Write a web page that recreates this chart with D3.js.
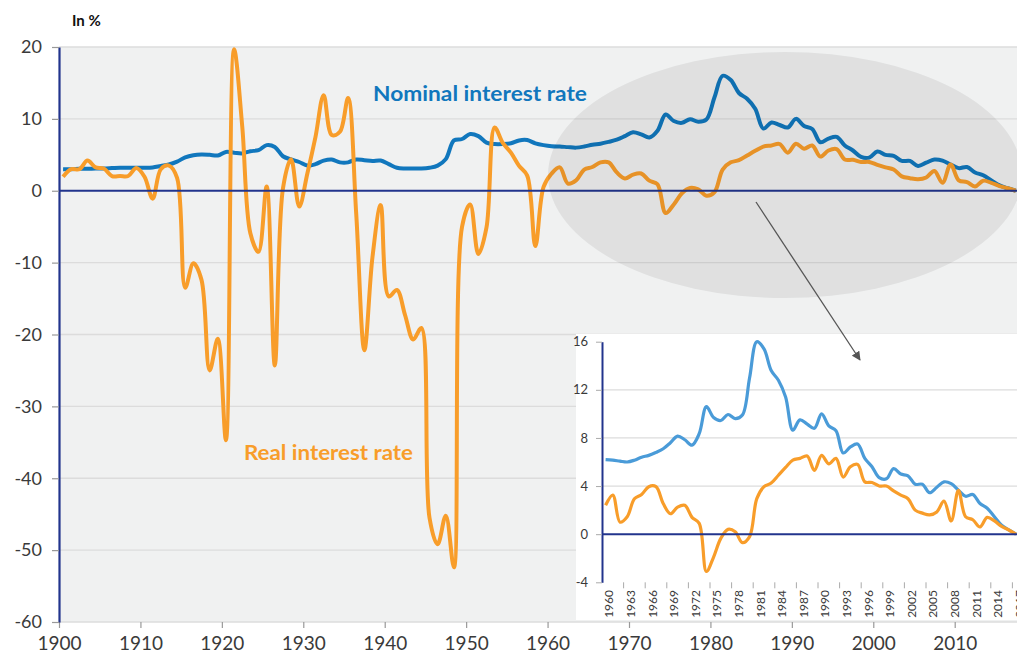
<!DOCTYPE html>
<html>
<head>
<meta charset="utf-8">
<script src="https://cdn.jsdelivr.net/npm/d3@7"></script>
<style>
  body { margin: 0; background: #fff; }
  svg text { font-family: Lato, "Open Sans", sans-serif; }
</style>
</head>
<body>
<div id="chart"></div>
<script>
// yearly values, 1900 .. 2017 (in %)
var startYear = 1900;
var nominalRate = [
  3.0, 3.0, 3.05, 3.05, 3.1, 3.1, 3.15, 3.2, 3.2, 3.2,
  3.2, 3.25, 3.45, 3.65, 4.05, 4.65, 4.95, 5.05, 5.0, 4.9,
  5.4, 5.3, 5.2, 5.5, 5.65, 6.35, 6.1, 4.8, 4.35, 4.0,
  3.5, 3.7, 4.2, 4.35, 3.95, 3.95, 4.35, 4.25, 4.15, 4.2,
  3.7, 3.2, 3.1, 3.1, 3.1, 3.2, 3.5, 4.4, 7.0, 7.2,
  7.9, 7.6, 6.7, 6.5, 6.5, 6.6, 7.0, 7.05, 6.6, 6.35,
  6.2, 6.15, 6.07, 6.0, 6.15, 6.4, 6.55, 6.8, 7.1, 7.6,
  8.15, 7.85, 7.4, 8.35, 10.6, 9.7, 9.45, 9.95, 9.6, 9.9,
  13.0, 16.0, 15.4, 13.6, 12.8, 11.4, 8.65, 9.5, 9.15, 8.8,
  10.0, 9.0, 8.6, 6.75, 7.25, 7.5, 6.3, 5.6, 4.7, 4.6,
  5.45, 5.0, 4.85, 4.15, 4.15, 3.45, 3.9, 4.35, 4.2, 3.65,
  3.15, 3.3, 2.55, 2.15, 1.45, 0.75, 0.35, 0.0
];
var realRate = [
  1.95, 3.0, 3.0, 4.2, 3.25, 3.1, 2.05, 2.05, 2.05, 3.15,
  1.95, -1.1, 3.0, 3.5, 1.8, -13.5, -10.1, -12.4, -25.0, -20.6,
  -34.7, 19.7, 9.0, -5.9, -8.5, 0.6, -24.3, 0.3, 4.4, -2.2,
  2.4, 7.5, 13.3, 7.75, 8.2, 12.9, -3.2, -22.2, -9.2, -2.0,
  -14.7, -13.8, -17.3, -20.7, -19.1, -45.5, -49.2, -45.2, -52.4, -5.0,
  -1.9, -8.8, -5.1, 8.8, 6.65, 5.3, 3.45, 2.1, -7.7, 0.5,
  2.4, 3.25, 1.0, 1.45, 2.95, 3.3, 3.95, 3.95, 2.55, 1.7,
  2.25, 2.4, 1.4, 0.9, -3.1, -1.9, -0.35, 0.4, 0.2, -0.7,
  -0.2, 2.95, 3.95, 4.25, 4.9, 5.55, 6.15, 6.3, 6.5, 5.3,
  6.55, 5.85, 6.3, 4.75, 5.6, 5.8, 4.35, 4.3, 4.0, 4.0,
  3.6, 3.25, 2.95, 2.0, 1.75, 1.6, 1.85, 2.75, 1.1, 3.65,
  1.45, 1.2, 0.6, 1.4, 1.1, 0.65, 0.35, 0.0
];
var mainYearTicks = [1900, 1910, 1920, 1930, 1940, 1950, 1960, 1970, 1980, 1990, 2000, 2010];
var mainValueTicks = [-60, -50, -40, -30, -20, -10, 0, 10, 20];

var insetStart = 1960;
var insetYearTicks = [1960, 1963, 1966, 1969, 1972, 1975, 1978, 1981, 1984, 1987, 1990,
  1993, 1996, 1999, 2002, 2005, 2008, 2011, 2014, 2017];
var insetValueTicks = [-4, 0, 4, 8, 12, 16];

var blue = "#1177bd", orange = "#f89d2a", navy = "#22348d";
var insetBlue = "#4a9bd8";
var plain = function(d){ return String(d); };   // keep the hyphen minus of the original

var W = 1017, H = 654;
var svg = d3.select("#chart").append("svg").attr("width", W).attr("height", H);

var rows = nominalRate.map(function(v, i) {
  return {year: startYear + i, nominal: v, real: realRate[i]};
});

// ---- main chart
var x = d3.scaleLinear().domain([1900, 2017.65]).range([59, 1017]);
var y = d3.scaleLinear().domain([-60, 20]).range([622, 47]);

svg.append("rect").attr("x", 59).attr("y", 47).attr("width", W - 59).attr("height", 575)
  .attr("fill", "#f0f1f1");

svg.append("g").selectAll("line").data(mainValueTicks.filter(function(d){ return d !== 0; }))
  .enter().append("line")
  .attr("x1", 59).attr("x2", W).attr("y1", function(d){ return y(d); }).attr("y2", function(d){ return y(d); })
  .attr("stroke", "#dcdcdc").attr("stroke-width", 1.3);

var line = function(key) {
  return d3.line()
    .x(function(d){ return x(d.year + 0.5); })
    .y(function(d){ return y(d[key]); })
    .curve(d3.curveCatmullRom);
};

svg.append("path").datum(rows).attr("d", line("nominal"))
  .attr("fill", "none").attr("stroke", blue).attr("stroke-width", 4).attr("stroke-linejoin", "round");
svg.append("path").datum(rows).attr("d", line("real"))
  .attr("fill", "none").attr("stroke", orange).attr("stroke-width", 4).attr("stroke-linejoin", "round");

svg.append("line").attr("x1", 59).attr("x2", W).attr("y1", y(0)).attr("y2", y(0))
  .attr("stroke", navy).attr("stroke-width", 2);

var xAxis = svg.append("g").attr("transform", "translate(0,622)")
  .call(d3.axisBottom(x).tickValues(mainYearTicks).tickFormat(plain)
    .tickSize(6).tickSizeOuter(0).tickPadding(9));
xAxis.select(".domain").remove();
xAxis.selectAll("line").attr("stroke", "#999").attr("stroke-width", 1.2);
xAxis.selectAll("text").attr("font-size", 19).attr("fill", "#3a3a3a");

var yAxis = svg.append("g").attr("transform", "translate(59,0)")
  .call(d3.axisLeft(y).tickValues(mainValueTicks).tickFormat(plain)
    .tickSize(7).tickSizeOuter(0).tickPadding(10));
yAxis.select(".domain").attr("stroke", navy).attr("stroke-width", 2.2);
yAxis.selectAll(".tick line").attr("stroke", "#999").attr("stroke-width", 1.2);
yAxis.selectAll("text").attr("font-size", 18).attr("fill", "#3a3a3a");

svg.append("text").attr("x", 72).attr("y", 26).attr("font-size", 15).attr("font-weight", "bold")
  .attr("fill", "#111").text("In %");

svg.append("text").attr("x", 373).attr("y", 101).attr("font-size", 21).attr("font-weight", "bold")
  .attr("fill", blue).attr("textLength", 214).attr("lengthAdjust", "spacingAndGlyphs")
  .text("Nominal interest rate");
svg.append("text").attr("x", 244).attr("y", 460).attr("font-size", 21).attr("font-weight", "bold")
  .attr("fill", orange).attr("textLength", 169).attr("lengthAdjust", "spacingAndGlyphs")
  .text("Real interest rate");

// highlight of the period shown in the inset
svg.append("ellipse").attr("cx", 785).attr("cy", 175).attr("rx", 237).attr("ry", 123)
  .attr("fill", "#000").attr("fill-opacity", 0.065);

// ---- inset
svg.append("rect").attr("x", 576).attr("y", 334).attr("width", W - 576).attr("height", 286).attr("fill", "#fff");

var xi = d3.scaleLinear().domain([1960, 2018]).range([602, 602 + 7.2 * 58]);
var yi = d3.scaleLinear().domain([-4, 16]).range([582.3, 341.7]);
var insetRows = rows.filter(function(d){ return d.year >= insetStart; });

var ig = svg.append("g");
ig.selectAll(".grid").data([4, 8, 12]).enter().append("line")
  .attr("x1", 602).attr("x2", W).attr("y1", function(d){ return yi(d); }).attr("y2", function(d){ return yi(d); })
  .attr("stroke", "#dcdcdc").attr("stroke-width", 1.2);

var iline = function(key) {
  return d3.line()
    .x(function(d){ return xi(d.year + 0.5); })
    .y(function(d){ return yi(d[key]); })
    .curve(d3.curveCatmullRom);
};
ig.append("path").datum(insetRows).attr("d", iline("nominal"))
  .attr("fill", "none").attr("stroke", insetBlue).attr("stroke-width", 3.2).attr("stroke-linejoin", "round");
ig.append("path").datum(insetRows).attr("d", iline("real"))
  .attr("fill", "none").attr("stroke", orange).attr("stroke-width", 3.2).attr("stroke-linejoin", "round");

ig.append("line").attr("x1", 602).attr("x2", W).attr("y1", yi(0)).attr("y2", yi(0))
  .attr("stroke", navy).attr("stroke-width", 2);

var iyAxis = ig.append("g").attr("transform", "translate(602,0)")
  .call(d3.axisLeft(yi).tickValues(insetValueTicks).tickFormat(plain)
    .tickSize(6).tickSizeOuter(0).tickPadding(8));
iyAxis.select(".domain").attr("stroke", navy).attr("stroke-width", 2);
iyAxis.selectAll(".tick line").attr("stroke", "#aaa");
iyAxis.selectAll("text").attr("font-size", 13).attr("fill", "#3a3a3a");

ig.selectAll(".itick").data(insetYearTicks.slice(1)).enter().append("line")
  .attr("x1", function(d){ return xi(d); }).attr("x2", function(d){ return xi(d); })
  .attr("y1", yi(-4)).attr("y2", yi(-4) + 6)
  .attr("stroke", "#aaa").attr("stroke-width", 1);

ig.selectAll(".ilabel").data(insetYearTicks).enter().append("text")
  .attr("transform", function(d){ return "translate(" + (xi(d + 0.5) + 3.5) + ",590) rotate(-90)"; })
  .attr("text-anchor", "end").attr("dy", "0.35em")
  .attr("font-size", 12).attr("fill", "#3a3a3a")
  .text(function(d){ return d; });

// ---- arrow from the ellipse to the inset
svg.append("defs").append("marker").attr("id", "head")
  .attr("viewBox", "0 0 10 10").attr("refX", 9).attr("refY", 5)
  .attr("markerWidth", 7).attr("markerHeight", 7).attr("orient", "auto")
  .append("path").attr("d", "M0,0 L10,5 L0,10 z").attr("fill", "#555");
svg.append("line").attr("x1", 756).attr("y1", 202).attr("x2", 860).attr("y2", 360)
  .attr("stroke", "#555").attr("stroke-width", 1.3).attr("marker-end", "url(#head)");
</script>
</body>
</html>
